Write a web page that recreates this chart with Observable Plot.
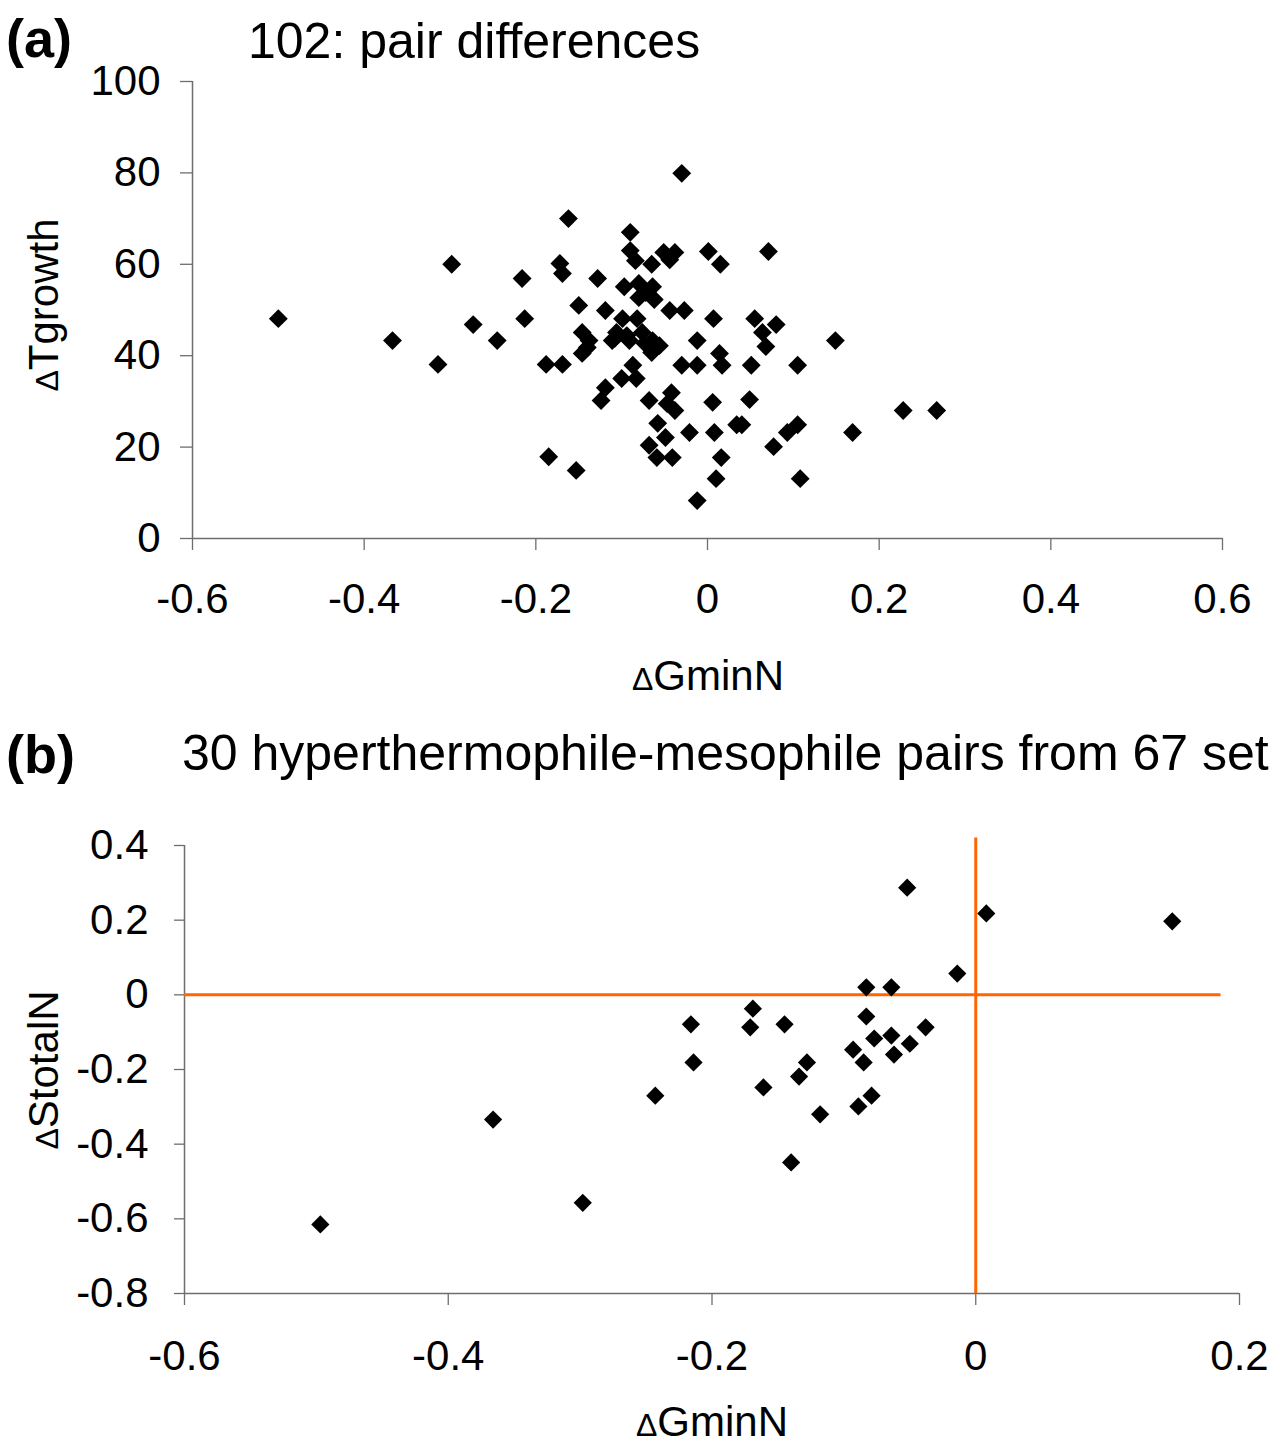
<!DOCTYPE html>
<html><head><meta charset="utf-8">
<script src="https://cdn.jsdelivr.net/npm/d3@7"></script>
<script src="https://cdn.jsdelivr.net/npm/@observablehq/plot@0.6"></script>
<style>
body{margin:0;background:#fff;font-family:"Liberation Sans",Arial,sans-serif;}
#fig{position:relative;width:1279px;height:1447px;overflow:hidden;}
#pa{position:absolute;left:0;top:0;}
#pb{position:absolute;left:0;top:700px;}
#ov{position:absolute;left:0;top:0;pointer-events:none;}
</style></head><body>
<div id="fig">
<div id="pa"></div>
<div id="pb"></div>
<svg id="ov" width="1279" height="1447" font-family="Liberation Sans, Arial, sans-serif" fill="#000">
  <text x="6" y="57" font-weight="bold" font-size="54">(a)</text>
  <text x="248" y="58" font-size="50">102: pair differences</text>
  <text x="6" y="773" font-weight="bold" font-size="54">(b)</text>
  <text x="182" y="770" font-size="50">30 hyperthermophile-mesophile pairs from 67 set</text>
  <text x="708" y="690" text-anchor="middle" font-size="42"><tspan font-size="32">Δ</tspan>GminN</text>
  <text x="712" y="1436" text-anchor="middle" font-size="42"><tspan font-size="32">Δ</tspan>GminN</text>
  <text transform="translate(58,305) rotate(-90)" text-anchor="middle" font-size="42"><tspan font-size="32">Δ</tspan>Tgrowth</text>
  <text transform="translate(58,1070) rotate(-90)" text-anchor="middle" font-size="42"><tspan font-size="32">Δ</tspan>StotalN</text>
</svg>
</div>
<script>
// Panel (a): 102 pair differences — ΔGminN (x) vs ΔTgrowth (y)
const aX = [-0.500,-0.367,-0.314,-0.298,-0.273,-0.245,-0.216,-0.213,-0.188,-0.185,
  -0.172,-0.169,-0.169,-0.162,-0.153,-0.150,-0.146,-0.138,-0.146,-0.128,
  -0.124,-0.119,-0.119,-0.111,-0.106,-0.099,-0.097,-0.100,-0.091,-0.090,
  -0.090,-0.084,-0.087,-0.083,-0.080,-0.080,-0.082,-0.076,-0.065,-0.064,
  -0.062,-0.064,-0.065,-0.068,-0.068,-0.059,-0.058,-0.051,-0.038,-0.044,
  -0.044,-0.042,-0.047,-0.038,-0.049,-0.041,-0.030,-0.027,-0.030,-0.021,
  -0.012,-0.012,-0.012,0.001,0.015,0.007,0.006,0.008,0.014,0.017,
  0.016,0.010,0.049,0.051,0.055,0.034,0.040,0.064,0.068,0.071,
  0.080,0.077,0.093,0.105,0.105,0.108,0.149,0.169,0.228,0.267,
  -0.072,-0.094,-0.073,-0.056,-0.108,-0.140];
const aY = [48.1,43.3,38.1,60.0,46.8,43.3,56.9,48.1,38.1,17.9,
  60.2,58.0,38.1,70.0,14.9,51.0,45.1,43.3,40.5,56.9,
  30.2,33.0,49.9,43.3,45.1,48.1,55.1,35.0,43.3,67.0,
  63.0,60.8,37.9,35.0,55.8,52.7,48.1,45.1,60.0,55.1,
  52.3,43.3,40.7,30.2,20.4,17.7,25.2,62.6,62.6,61.0,
  49.9,31.9,29.5,28.0,22.1,17.7,79.9,49.9,37.9,23.2,
  43.3,37.9,8.3,62.8,60.0,48.1,29.8,23.2,40.5,37.9,
  17.7,13.1,30.4,37.9,48.1,24.9,24.9,45.1,42.0,62.8,
  46.8,20.1,23.2,24.9,37.9,13.1,43.3,23.2,28.0,28.0,
  53.8,44.4,42.7,42.2,43.8,41.8];
const aXTicks = [-0.6,-0.4,-0.2,0,0.2,0.4,0.6];
const aYTicks = [0,20,40,60,80,100];

// Panel (b): 30 hyperthermophile-mesophile pairs — ΔGminN (x) vs ΔStotalN (y)
const bX = [-0.497,-0.366,-0.298,-0.243,-0.216,-0.214,-0.171,-0.169,-0.161,-0.145,
  -0.140,-0.134,-0.128,-0.118,-0.093,-0.089,-0.085,-0.083,-0.083,-0.079,
  -0.077,-0.064,-0.064,-0.062,-0.050,-0.052,-0.038,-0.014,0.008,0.149];
const bY = [-0.615,-0.334,-0.557,-0.270,-0.079,-0.181,-0.087,-0.037,-0.248,-0.079,
  -0.449,-0.219,-0.181,-0.320,-0.147,-0.299,-0.181,-0.058,0.020,-0.270,
  -0.117,0.020,-0.109,-0.160,-0.131,0.287,-0.087,0.057,0.218,0.197];
const bXTicks = [-0.6,-0.4,-0.2,0,0.2];
const bYTicks = [-0.8,-0.6,-0.4,-0.2,0,0.2,0.4];
// reference lines (orange)
const bHLine = [{y: 0, x1: -0.6, x2: 0.186}];
const bVLine = [{x: 0, y1: -0.8, y2: 0.42}];

const dataA = aX.map((x, i) => ({x, y: aY[i]}));
const dataB = bX.map((x, i) => ({x, y: bY[i]}));

const font = "Liberation Sans, Arial, sans-serif";
const axisGray = "#6e6e6e";
const fmt = d => String(d);

const plotA = Plot.plot({
  width: 1279, height: 700,
  marginTop: 81, marginBottom: 162, marginLeft: 192, marginRight: 57,
  style: {fontFamily: font, fontSize: "42px", color: "#000", background: "transparent", overflow: "visible"},
  x: {domain: [-0.6, 0.6]},
  y: {domain: [0, 100]},
  marks: [
    Plot.axisX({ticks: aXTicks, tickFormat: fmt, tickSize: 12, tickPadding: 33, stroke: axisGray, strokeWidth: 1.3, label: null, fontSize: 42}),
    Plot.axisY({ticks: aYTicks, tickFormat: fmt, tickSize: 12, tickPadding: 20, stroke: axisGray, strokeWidth: 1.3, label: null, fontSize: 42}),
    Plot.ruleY([0], {stroke: axisGray, strokeWidth: 1.5}),
    Plot.ruleX([-0.6], {stroke: axisGray, strokeWidth: 1.5}),
    Plot.dot(dataA, {x: "x", y: "y", symbol: "diamond2", r: 8.5, fill: "#000", stroke: "none"})
  ]
});
document.getElementById("pa").appendChild(plotA);

const plotB = Plot.plot({
  width: 1279, height: 747,
  marginTop: 145, marginBottom: 154, marginLeft: 184, marginRight: 40,
  style: {fontFamily: font, fontSize: "42px", color: "#000", background: "transparent", overflow: "visible"},
  x: {domain: [-0.6, 0.2]},
  y: {domain: [-0.8, 0.4]},
  marks: [
    Plot.axisX({ticks: bXTicks, tickFormat: fmt, tickSize: 12, tickPadding: 35, stroke: axisGray, strokeWidth: 1.3, label: null, fontSize: 42}),
    Plot.axisY({ticks: bYTicks, tickFormat: fmt, tickSize: 10, tickPadding: 26, stroke: axisGray, strokeWidth: 1.3, label: null, fontSize: 42}),
    Plot.ruleY([-0.8], {stroke: axisGray, strokeWidth: 1.5}),
    Plot.ruleX([-0.6], {stroke: axisGray, strokeWidth: 1.5}),
    Plot.ruleY(bHLine, {y: "y", x1: "x1", x2: "x2", stroke: "#FF6600", strokeWidth: 3}),
    Plot.ruleX(bVLine, {x: "x", y1: "y1", y2: "y2", stroke: "#FF6600", strokeWidth: 3}),
    Plot.dot(dataB, {x: "x", y: "y", symbol: "diamond2", r: 8.2, fill: "#000", stroke: "none"})
  ]
});
document.getElementById("pb").appendChild(plotB);
</script>
</body></html>
